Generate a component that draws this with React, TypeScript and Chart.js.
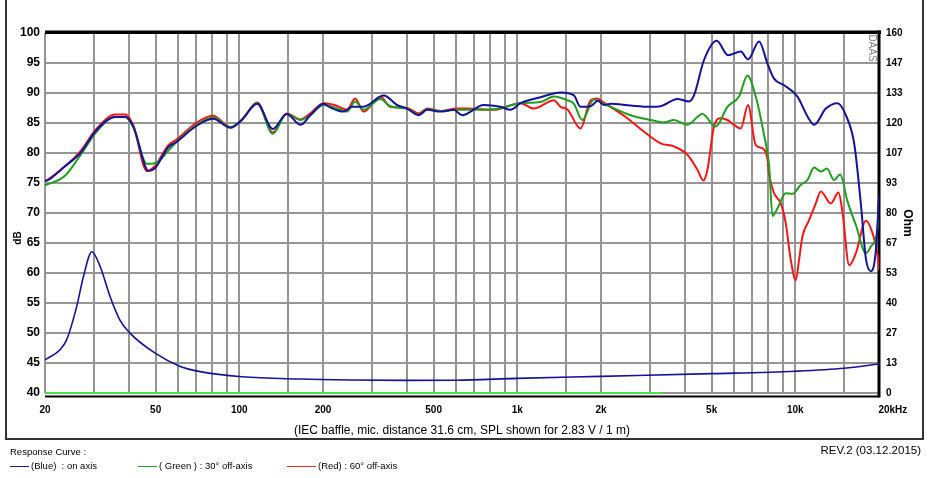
import React, { useEffect, useRef } from 'react';
import { Chart, registerables } from 'chart.js';

Chart.register(...registerables);

const FONT = 'Arial, "Liberation Sans", Helvetica, sans-serif';

// ---- axes / ticks ----
const gridFreqs = [20, 30, 40, 50, 60, 70, 80, 90, 100, 150, 200, 300, 400, 500, 600, 700, 800, 900, 1000, 1500, 2000, 3000, 4000, 5000, 6000, 7000, 8000, 9000, 10000, 15000, 20000];
const labeledFreqs = [20, 50, 100, 200, 500, 1000, 2000, 5000, 10000, 20000];
const labeledText = ['20', '50', '100', '200', '500', '1k', '2k', '5k', '10k', '20kHz'];
const dbTicks = [40, 45, 50, 55, 60, 65, 70, 75, 80, 85, 90, 95, 100];
const ohmTickLabels = ['0', '13', '27', '40', '53', '67', '80', '93', '107', '120', '133', '147', '160'];

// ---- on axis (blue) ----
const blueFreq = [20, 20.7, 23.6, 26.7, 30.6, 35.8, 38.9, 41.6, 47.2, 49.8, 55.6, 59.3, 70, 80.4, 93, 102, 116, 132, 148, 166, 180, 201, 212, 237, 254, 280, 331, 369, 401, 442, 474, 529, 590, 633, 757, 870, 945, 1027, 1212, 1430, 1598, 1688, 1835, 1950, 2048, 2166, 2556, 3018, 3278, 3765, 4146, 4320, 4694, 5216, 5726, 6364, 6760, 7406, 7940, 8386, 9112, 10180, 11062, 11682, 12872, 14188, 15200, 16282, 17212, 17942, 18702, 19490, 20000];
const blueDb = [75.3, 75.6, 77.8, 79.9, 83.8, 86.0, 86.0, 84.4, 77.0, 77.5, 81.0, 81.8, 84.5, 85.7, 84.2, 85.5, 88.2, 84.0, 86.5, 84.7, 86.3, 88.2, 87.6, 86.9, 87.7, 87.7, 89.6, 88.0, 87.4, 86.3, 87.2, 86.9, 87.2, 86.3, 88.0, 87.7, 87.2, 88.3, 89.3, 90.1, 89.6, 87.7, 87.8, 88.7, 88.0, 88.2, 87.9, 87.7, 87.8, 89.0, 88.6, 89.6, 95.5, 98.7, 96.3, 96.9, 95.6, 98.6, 94.9, 92.4, 91.3, 89.4, 86.1, 84.7, 87.4, 88.3, 86.3, 81.6, 71.5, 62.4, 60.3, 63.8, 73.0];

// ---- 30° off axis (green) ----
const greenFreq = [20, 23.6, 26.7, 30.6, 35.8, 38.9, 41.6, 46.5, 49.8, 55.6, 59.3, 70, 80.4, 93, 102, 116, 132, 148, 166, 180, 201, 220, 244, 261, 280, 322, 349, 401, 442, 474, 529, 607, 660, 823, 1027, 1212, 1354, 1512, 1598, 1712, 1886, 2048, 2556, 3018, 3369, 3660, 4092, 4632, 5172, 5698, 6274, 6726, 7206, 7720, 8046, 8276, 8626, 9238, 9768, 10462, 11062, 11682, 12350, 12980, 13790, 14496, 15416, 16512, 17942, 18702, 19766, 20000];
const greenDb = [74.6, 76.2, 79.5, 83.5, 86.0, 86.0, 84.2, 78.2, 78.3, 80.4, 81.8, 84.6, 85.9, 84.3, 85.5, 88.3, 83.2, 86.5, 85.5, 86.3, 88.0, 87.6, 86.9, 88.6, 87.2, 89.0, 87.8, 87.4, 86.4, 87.3, 87.0, 87.2, 87.2, 87.3, 88.3, 88.5, 89.4, 88.8, 88.2, 85.5, 88.9, 88.2, 86.3, 85.5, 85.1, 85.5, 84.7, 86.5, 84.4, 87.7, 89.4, 92.9, 89.4, 83.0, 78.0, 69.5, 70.8, 73.3, 73.2, 74.7, 75.5, 77.6, 76.9, 77.4, 75.5, 76.4, 71.9, 68.0, 63.3, 64.4, 67.4, 71.0];

// ---- 60° off axis (red) ----
const redFreq = [20, 20.7, 26.7, 30.6, 35.8, 38.9, 41.6, 46.5, 49.8, 55.6, 59.3, 70, 80.4, 93, 102, 116, 132, 148, 166, 180, 201, 220, 244, 261, 280, 322, 349, 401, 442, 474, 529, 607, 660, 823, 1027, 1147, 1354, 1430, 1512, 1688, 1835, 1940, 2048, 2487, 2777, 3278, 3660, 4092, 4444, 4670, 4828, 5100, 5392, 5698, 5940, 6364, 6760, 7206, 7618, 7940, 8046, 8386, 8866, 9238, 9630, 10038, 10316, 10610, 11208, 11848, 12350, 13420, 14306, 14790, 15618, 16512, 17942, 18966, 19766, 20000];
const redDb = [75.3, 75.7, 80.2, 84.0, 86.4, 86.4, 84.5, 77.0, 77.9, 81.3, 82.2, 85.0, 86.2, 84.3, 85.5, 88.4, 83.4, 86.6, 85.6, 86.6, 88.3, 88.0, 87.2, 89.1, 86.9, 89.4, 87.7, 87.5, 86.6, 87.4, 87.0, 87.4, 87.4, 87.2, 88.3, 87.4, 88.8, 87.7, 87.3, 84.1, 88.8, 89.1, 88.4, 85.8, 84.0, 81.6, 81.1, 79.7, 77.2, 75.4, 77.2, 84.4, 85.8, 85.5, 84.9, 84.1, 88.0, 81.3, 80.8, 79.0, 76.5, 73.3, 71.6, 68.3, 62.2, 58.8, 62.2, 66.1, 68.8, 71.6, 73.6, 71.6, 73.4, 70.0, 61.3, 63.3, 68.7, 66.6, 63.0, 60.5];

// ---- impedance (Ohm, right axis) ----
const impFreq = [20, 22.6, 23.9, 26, 27.5, 29.5, 31.6, 34.3, 37.2, 40.5, 49.8, 61.3, 72.3, 102, 166, 250, 400, 600, 1000, 2000, 5000, 10000, 15000, 20000];
const impOhm = [14.7, 19.1, 23.5, 38.4, 51.8, 62.8, 56.1, 42.8, 32.4, 26.5, 17.7, 11.8, 9.5, 7.2, 6.2, 5.8, 5.6, 5.7, 6.5, 7.4, 8.6, 9.7, 11.0, 12.9];

// ---- reference line at the bottom ----
const baseFreq = [20, 3300];
const baseDb = [40, 40];

const caption = '(IEC baffle, mic. distance 31.6 cm, SPL shown for 2.83 V / 1 m)';
const legendLabels = ['(Blue)  : on axis', '( Green ) : 30° off-axis', '(Red) : 60° off-axis'];
const legendColors = ['#1a1a9a', '#22a022', '#ff2020'];

const BLUE = '#13139c';
const GREEN = '#1f9f1f';
const RED = '#ff1414';
const GRID = '#959595';

const toPts = (xs: number[], ys: number[]) => xs.map((x, i) => ({ x, y: ys[i] }));

export default function App() {
  const ref = useRef<HTMLCanvasElement>(null);

  useEffect(() => {
    const canvas = ref.current;
    if (!canvas) return;
    Chart.defaults.font.family = FONT;

    const framePlugin = {
      id: 'frame',
      beforeDatasetsDraw(chart: any) {
        const { ctx, chartArea: a } = chart;
        ctx.save();
        ctx.fillStyle = '#000';
        ctx.fillRect(a.left, a.top - 2.5, a.right - a.left + 2, 3.5);
        ctx.fillRect(a.right - 1.5, a.top - 2.5, 3, a.bottom - a.top + 7);
        ctx.fillRect(a.left, a.bottom + 2.5, a.right - a.left, 2);
        ctx.restore();
      },
      afterDraw(chart: any) {
        const { ctx } = chart;
        ctx.save();
        ctx.fillStyle = '#000';
        ctx.textAlign = 'center';
        ctx.textBaseline = 'middle';
        ctx.font = `bold 10px ${FONT}`;
        ctx.translate(18, 238);
        ctx.rotate(-Math.PI / 2);
        ctx.fillText('dB', 0, 0);
        ctx.restore();

        ctx.save();
        ctx.fillStyle = '#000';
        ctx.textAlign = 'center';
        ctx.textBaseline = 'middle';
        ctx.font = `bold 12px ${FONT}`;
        ctx.translate(907, 223);
        ctx.rotate(Math.PI / 2);
        ctx.fillText('Ohm', 0, 0);
        ctx.restore();

        ctx.save();
        ctx.fillStyle = '#808080';
        ctx.textAlign = 'center';
        ctx.textBaseline = 'middle';
        ctx.font = `10px ${FONT}`;
        ctx.translate(872, 48);
        ctx.rotate(Math.PI / 2);
        ctx.fillText('DAAS', 0, 0);
        ctx.restore();
      },
    };

    const chart = new Chart(canvas, {
      type: 'line',
      data: {
        datasets: [
          { label: 'on axis', data: toPts(blueFreq, blueDb), borderColor: BLUE, borderWidth: 2, yAxisID: 'y' },
          { label: '30° off-axis', data: toPts(greenFreq, greenDb), borderColor: GREEN, borderWidth: 2, yAxisID: 'y' },
          { label: '60° off-axis', data: toPts(redFreq, redDb), borderColor: RED, borderWidth: 2, yAxisID: 'y' },
          { label: 'Impedance', data: toPts(impFreq, impOhm), borderColor: BLUE, borderWidth: 1.6, yAxisID: 'y2' },
          { label: 'ref', data: toPts(baseFreq, baseDb), borderColor: '#4fe04f', borderWidth: 2, yAxisID: 'y', clip: false as any },
        ],
      },
      options: {
        animation: false,
        responsive: false,
        devicePixelRatio: 1,
        events: [],
        elements: {
          point: { radius: 0 },
          line: { cubicInterpolationMode: 'monotone', fill: false },
        },
        layout: { padding: { top: 33, left: 0, right: 0, bottom: 40 } },
        plugins: { legend: { display: false }, tooltip: { enabled: false }, title: { display: false } },
        scales: {
          x: {
            type: 'logarithmic',
            position: 'bottom',
            min: 20,
            max: 20000,
            afterBuildTicks: (s: any) => { s.ticks = gridFreqs.map((v) => ({ value: v })); },
            afterFit: (s: any) => { s.height = 45; },
            grid: { color: GRID, lineWidth: 2, drawTicks: false },
            border: { display: false },
            ticks: {
              autoSkip: false,
              maxRotation: 0,
              minRotation: 0,
              padding: 11,
              color: '#000',
              font: { size: 10, weight: 'bold' },
              callback: (value: any) => {
                const i = labeledFreqs.indexOf(Number(value));
                if (i < 0) return '';
                return i === labeledFreqs.length - 1 ? '          ' + labeledText[i] : labeledText[i];
              },
            },
            title: { display: true, text: caption, color: '#000', font: { size: 12 }, padding: { top: 0, bottom: 0 } },
          },
          y: {
            position: 'left',
            min: 40,
            max: 100,
            afterBuildTicks: (s: any) => { s.ticks = dbTicks.map((v) => ({ value: v })); },
            afterFit: (s: any) => { s.width = 45; },
            grid: { color: GRID, lineWidth: 2, drawTicks: false },
            border: { display: false },
            ticks: { padding: 5, color: '#000', font: { size: 12, weight: 'bold' } },
          },
          y2: {
            position: 'right',
            min: 0,
            max: 160,
            afterBuildTicks: (s: any) => {
              s.ticks = ohmTickLabels.map((_, i) => ({ value: (i * 160) / (ohmTickLabels.length - 1) }));
            },
            afterFit: (s: any) => { s.width = 61; },
            grid: { display: false, drawTicks: false },
            border: { display: false },
            ticks: {
              padding: 7,
              color: '#000',
              font: { size: 10, weight: 'bold' },
              callback: (_v: any, i: number) => ohmTickLabels[i],
            },
          },
        },
      } as any,
      plugins: [framePlugin],
    });

    return () => chart.destroy();
  }, []);

  const legendX = [10, 138, 287];
  const legendLineW = [19, 19, 29];

  return (
    <div style={{ position: 'absolute', left: 0, top: 0, width: 940, height: 478, background: '#fff', fontFamily: FONT, color: '#000', overflow: 'hidden' }}>
      <div style={{ position: 'absolute', left: 5, top: -2, width: 919, height: 442, border: '2px solid #333', boxSizing: 'border-box' }} />
      <canvas ref={ref} width={940} height={478} style={{ position: 'absolute', left: 0, top: 0, width: 940, height: 478 }} />
      <div style={{ position: 'absolute', left: 10, top: 446, fontSize: 9.5, lineHeight: '12px', whiteSpace: 'pre' }}>Response Curve :</div>
      {legendLabels.map((t, i) => (
        <div key={i} style={{ position: 'absolute', left: legendX[i], top: 460, height: 12, display: 'flex', alignItems: 'center', fontSize: 9.5, lineHeight: '12px', whiteSpace: 'pre' }}>
          <span style={{ display: 'inline-block', width: legendLineW[i], height: 1, background: legendColors[i], marginRight: 2 }} />
          <span>{t}</span>
        </div>
      ))}
      <div style={{ position: 'absolute', right: 19, top: 443, fontSize: 11.5, lineHeight: '14px', whiteSpace: 'pre' }}>REV.2 (03.12.2015)</div>
    </div>
  );
}
